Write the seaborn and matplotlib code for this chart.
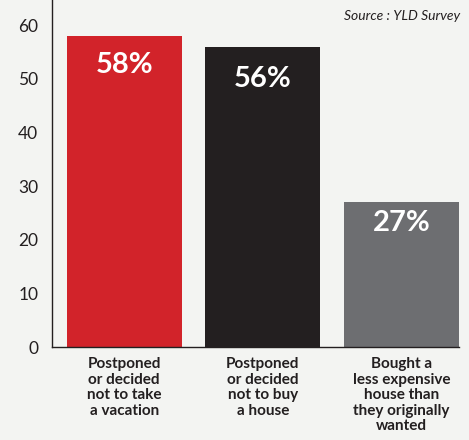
import matplotlib
matplotlib.use("Agg")
import matplotlib.pyplot as plt
import seaborn as sns
import pandas as pd

# data
categories = ["Postponed\nor decided\nnot to take\na vacation",
              "Postponed\nor decided\nnot to buy\na house",
              "Bought a\nless expensive\nhouse than\nthey originally\nwanted"]
values = [58, 56, 27]
value_labels = ["58%", "56%", "27%"]
bar_colors = ["#D2232A", "#231F20", "#6D6E71"]
yticks = [0, 10, 20, 30, 40, 50, 60]

df = pd.DataFrame({"category": categories, "value": values})

sns.set_theme(style="white")
plt.rcParams["font.family"] = ["Lato", "DejaVu Sans"]

bg = "#F3F4F2"
fig = plt.figure(figsize=(4.69, 4.40), dpi=100, facecolor=bg)
ax = fig.add_axes([0.111, 0.211, 0.868, 0.789])
ax.set_facecolor(bg)

sns.barplot(data=df, x="category", y="value", hue="category",
            palette=bar_colors, width=0.83, legend=False, ax=ax,
            saturation=1, linewidth=0)

ax.set_xlim(-0.52, 2.415)
ax.set_ylim(0, 64.7)
ax.set_yticks(yticks)
ax.set_yticklabels([str(t) for t in yticks], fontsize=12.5, color="#231F20")
ax.tick_params(axis="y", length=0, pad=10)
ax.tick_params(axis="x", length=0, pad=7)
for lbl in ax.get_xticklabels():
    lbl.set_fontsize(11)
    lbl.set_fontweight("bold")
    lbl.set_color("#231F20")
    lbl.set_linespacing(1.15)
ax.set_xlabel("")
ax.set_ylabel("")

for side in ["top", "right"]:
    ax.spines[side].set_visible(False)
for side in ["left", "bottom"]:
    ax.spines[side].set_color("#231F20")
    ax.spines[side].set_linewidth(1.0)

offsets = [-21, -23, -15]
for i, (v, txt) in enumerate(zip(values, value_labels)):
    ax.annotate(txt, xy=(i, v), xytext=(0, offsets[i]), textcoords="offset points",
                ha="center", va="center", color="white", fontsize=21,
                fontweight="bold")

fig.text(0.982, 0.963, "Source : YLD Survey", ha="right", va="center",
         fontsize=10, style="italic", color="#231F20")

fig.savefig("out.png", dpi=100, facecolor=bg)
